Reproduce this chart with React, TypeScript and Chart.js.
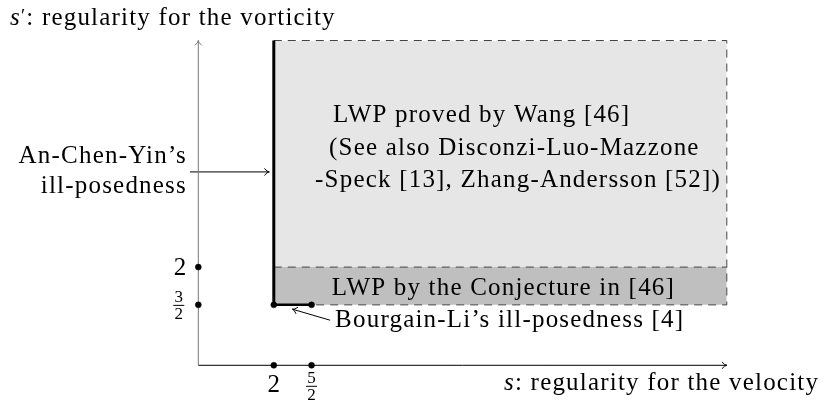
import { useEffect, useRef } from 'react';
import { Chart, registerables } from 'chart.js';
Chart.register(...registerables);

// ---- data (diagram coordinates: s on x, s' on y) ----
const xRange = [1, 8];
const yRange = [0.7, 5];
const sBox = [2, 8];
const spLevels = [1.5, 2, 5];
const sIll = [2, 2.5];
const xTickValues = [2, 2.5];
const xTickLabels = ['2', '5/2'];
const yTickValues = [2, 1.5];
const yTickLabels = ['2', '3/2'];
const mainLines = [
  'LWP proved by Wang [46]',
  '(See also Disconzi-Luo-Mazzone',
  '-Speck [13], Zhang-Andersson [52])',
];
const mainLineX = [2.785, 2.732, 2.547];
const mainLineY = [3.925, 3.483, 3.066];
const conjText = 'LWP by the Conjecture in [46]';
const conjPos = [2.768, 1.628];
const bourgainText = 'Bourgain-Li’s ill-posedness [4]';
const bourgainPos = [2.812, 1.209];
const bourgainArrow = [[2.746, 1.297], [2.246, 1.443]];
const acyLines = ['An-Chen-Yin’s', 'ill-posedness'];
const acyX = 0.85;
const acyY = [3.378, 2.98];
const acyArrow = [[0.89, 3.26], [1.94, 3.26]];
const yAxisTitle = ['s', '′', ': regularity for the vorticity'];
const yAxisTitlePos = [-1.494, 5.205];
const xAxisTitle = ['s', ': regularity for the velocity'];
const xAxisTitlePos = [5.05, 0.373];

const SERIF = '"Liberation Serif", "Times New Roman", serif';
const FS = 25;

function pt(a: number[]) {
  return { x: a[0], y: a[1] };
}

export default function App() {
  const ref = useRef<HTMLCanvasElement | null>(null);
  useEffect(() => {
    document.body.style.margin = '0';
    const canvas = ref.current!;
    const [sp0, sp1, sp2] = spLevels;
    const dashColor = '#444';
    const datasets: any[] = [
      // light region
      {
        data: [{ x: sBox[0], y: sp2 }, { x: sBox[1], y: sp2 }],
        fill: { value: sp1 }, backgroundColor: '#e6e6e6', borderWidth: 0, pointRadius: 0, order: 20,
      },
      // dark region
      {
        data: [{ x: sBox[0], y: sp1 }, { x: sBox[1], y: sp1 }],
        fill: { value: sp0 }, backgroundColor: '#bfbfbf', borderWidth: 0, pointRadius: 0, order: 19,
      },
      // dashed outline: top, right, bottom
      {
        data: [{ x: sBox[0], y: sp2 }, { x: sBox[1], y: sp2 }, { x: sBox[1], y: sp0 }, { x: sIll[1], y: sp0 }],
        borderColor: dashColor, borderWidth: 1, borderDash: [8, 6], pointRadius: 0, order: 15,
      },
      // dashed middle line
      {
        data: [{ x: sBox[0], y: sp1 }, { x: sBox[1], y: sp1 }],
        borderColor: dashColor, borderWidth: 1, borderDash: [8, 6], pointRadius: 0, order: 15,
      },
      // thick left edge
      {
        data: [{ x: sBox[0], y: sp0 }, { x: sBox[0], y: sp2 }],
        borderColor: '#000', borderWidth: 3, pointRadius: 0, order: 5,
      },
      // thick bottom segment
      {
        data: [{ x: sIll[0], y: sp0 }, { x: sIll[1], y: sp0 }],
        borderColor: '#000', borderWidth: 2.5, pointRadius: 0, order: 5,
      },
      // x axis
      {
        data: [{ x: xRange[0], y: yRange[0] }, { x: xRange[1], y: yRange[0] }],
        borderColor: '#000', borderWidth: 1, pointRadius: 0, order: 8, arrow: true,
      },
      // An-Chen-Yin arrow
      {
        data: acyArrow.map(pt), borderColor: '#000', borderWidth: 1, pointRadius: 0, order: 7, arrow: true,
      },
      // y axis
      {
        data: [{ x: xRange[0], y: yRange[0] }, { x: xRange[0], y: yRange[1] }],
        borderColor: '#777', borderWidth: 1, pointRadius: 0, order: 6, arrow: true,
      },
      // Bourgain arrow
      {
        data: bourgainArrow.map(pt), borderColor: '#000', borderWidth: 1, pointRadius: 0, order: 7, arrow: true,
      },
      // dots
      {
        data: [
          ...xTickValues.map((v) => ({ x: v, y: yRange[0] })),
          ...yTickValues.map((v) => ({ x: xRange[0], y: v })),
          ...sIll.map((v) => ({ x: v, y: sp0 })),
        ],
        showLine: false, pointRadius: 3, pointBackgroundColor: '#000', pointBorderColor: '#000',
        pointBorderWidth: 0.5, order: 1,
      },
    ];
    datasets.forEach((d) => {
      d.clip = false;
      if (d.showLine === undefined) d.showLine = true;
      d.tension = 0;
    });

    const drawPlugin = {
      id: 'diagramText',
      afterDatasetsDraw(chart: any) {
        const { ctx } = chart;
        const xs = chart.scales.x, ys = chart.scales.y;
        const px = (v: number) => xs.getPixelForValue(v);
        const py = (v: number) => ys.getPixelForValue(v);
        ctx.save();
        // arrowheads
        chart.data.datasets.forEach((ds: any) => {
          if (!ds.arrow) return;
          const d = ds.data;
          const a = d[d.length - 2], b = d[d.length - 1];
          const x1 = px(a.x), y1 = py(a.y), x2 = px(b.x), y2 = py(b.y);
          const ang = Math.atan2(y2 - y1, x2 - x1);
          const L = 6, W = 0.62;
          ctx.strokeStyle = ds.borderColor;
          ctx.lineWidth = 1;
          ctx.beginPath();
          ctx.moveTo(x2 - L * Math.cos(ang - W), y2 - L * Math.sin(ang - W));
          ctx.quadraticCurveTo(x2 - 2 * Math.cos(ang), y2 - 2 * Math.sin(ang), x2, y2);
          ctx.quadraticCurveTo(x2 - 2 * Math.cos(ang), y2 - 2 * Math.sin(ang), x2 - L * Math.cos(ang + W), y2 - L * Math.sin(ang + W));
          ctx.stroke();
        });

        ctx.fillStyle = '#000';
        ctx.textBaseline = 'alphabetic';
        const setFont = (size: number, italic = false) => {
          ctx.font = `${italic ? 'italic ' : ''}${size}px ${SERIF}`;
        };
        (ctx as any).letterSpacing = '1.2px';
        setFont(FS);
        ctx.textAlign = 'left';
        mainLines.forEach((t, i) => ctx.fillText(t, px(mainLineX[i]), py(mainLineY[i])));
        ctx.fillText(conjText, px(conjPos[0]), py(conjPos[1]));
        ctx.fillText(bourgainText, px(bourgainPos[0]), py(bourgainPos[1]));
        ctx.textAlign = 'right';
        acyLines.forEach((t, i) => ctx.fillText(t, px(acyX), py(acyY[i])));
        ctx.textAlign = 'left';

        // axis titles
        const drawSeq = (parts: { t: string; italic?: boolean; size?: number; dy?: number }[], x0: number, y0: number) => {
          let cx = x0;
          parts.forEach((p) => {
            setFont(p.size || FS, p.italic);
            ctx.fillText(p.t, cx, y0 + (p.dy || 0));
            cx += ctx.measureText(p.t).width;
          });
        };
        drawSeq(
          [
            { t: yAxisTitle[0], italic: true },
            { t: yAxisTitle[1], size: 19, dy: -3 },
            { t: yAxisTitle[2] },
          ],
          px(yAxisTitlePos[0]), py(yAxisTitlePos[1])
        );
        drawSeq(
          [{ t: xAxisTitle[0], italic: true }, { t: xAxisTitle[1] }],
          px(xAxisTitlePos[0]), py(xAxisTitlePos[1])
        );

        // tick labels
        (ctx as any).letterSpacing = '0px';
        const drawFrac = (label: string, cx: number, barY: number) => {
          const [n, dd] = label.split('/');
          setFont(17);
          ctx.textAlign = 'center';
          ctx.fillText(n, cx, barY - 3);
          ctx.fillText(dd, cx, barY + 13.5);
          ctx.fillRect(cx - 5.5, barY - 0.5, 11, 1);
        };
        const axY = py(yRange[0]);
        const axX = px(xRange[0]);
        xTickValues.forEach((v, i) => {
          const lab = xTickLabels[i];
          if (lab.includes('/')) drawFrac(lab, px(v), axY + 21);
          else {
            setFont(FS);
            ctx.textAlign = 'center';
            ctx.fillText(lab, px(v), axY + 27);
          }
        });
        yTickValues.forEach((v, i) => {
          const lab = yTickLabels[i];
          if (lab.includes('/')) drawFrac(lab, axX - 19.5, py(v) + 0.5);
          else {
            setFont(FS);
            ctx.textAlign = 'right';
            ctx.fillText(lab, axX - 12, py(v) + 8);
          }
        });
        ctx.restore();
      },
    };

    const chart = new Chart(canvas, {
      type: 'scatter',
      data: { datasets },
      options: {
        animation: false,
        responsive: true,
        maintainAspectRatio: false,
        layout: { padding: { left: 198.3, right: 104.2, top: 40.5, bottom: 50.7 } },
        scales: {
          x: { type: 'linear', min: xRange[0], max: xRange[1], display: false },
          y: { type: 'linear', min: yRange[0], max: yRange[1], display: false },
        },
        plugins: { legend: { display: false }, tooltip: { enabled: false } },
        events: [],
      },
      plugins: [drawPlugin],
    } as any);
    return () => chart.destroy();
  }, []);
  return (
    <div style={{ width: 831, height: 416, position: 'relative', background: '#fff' }}>
      <canvas ref={ref} />
    </div>
  );
}
